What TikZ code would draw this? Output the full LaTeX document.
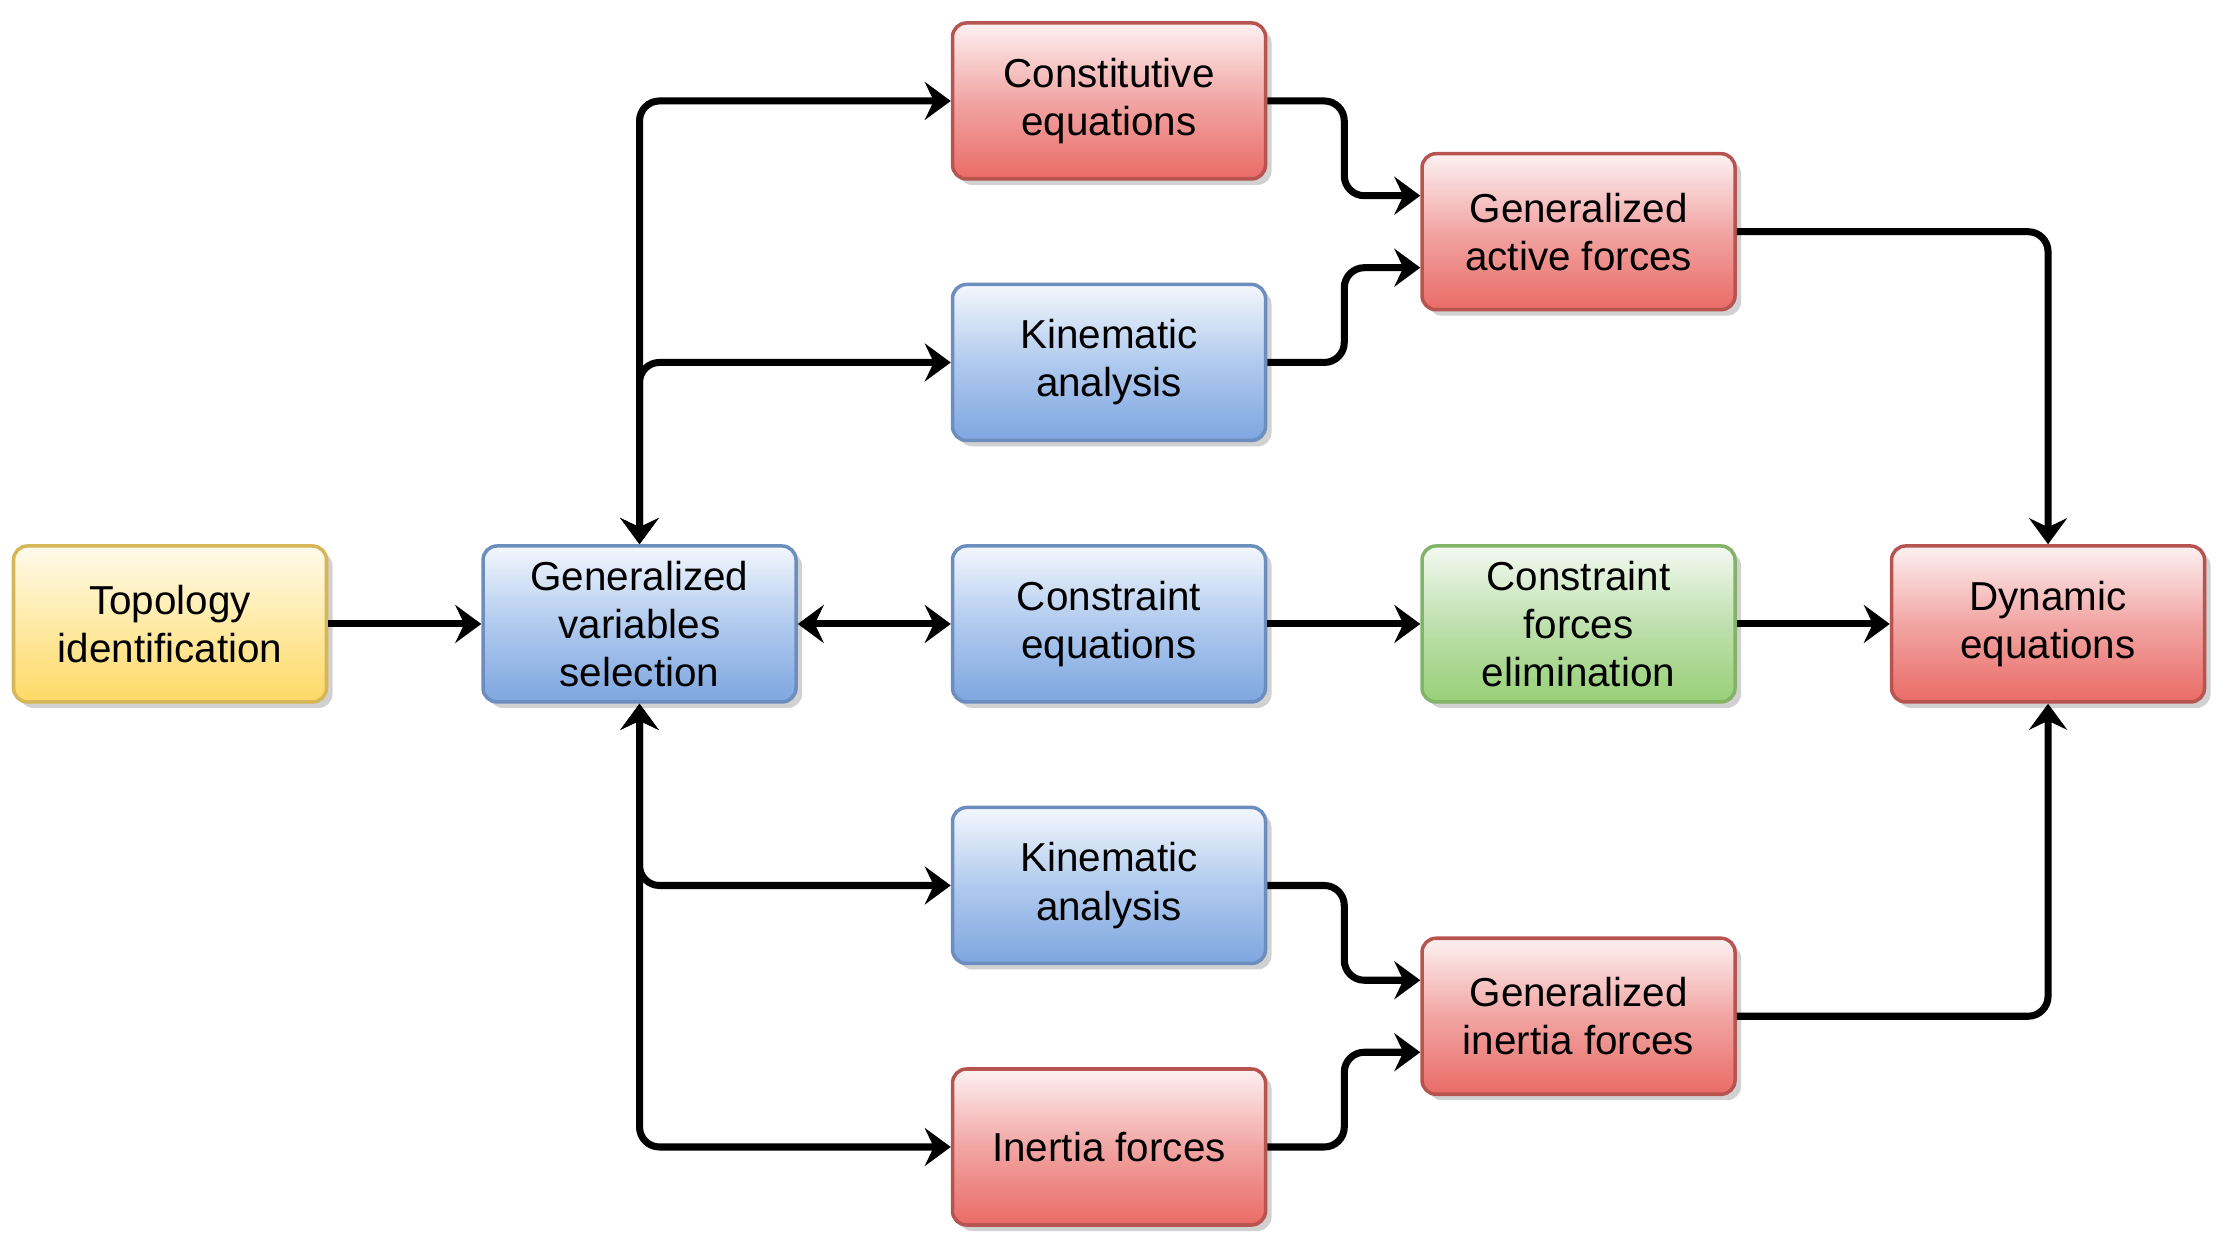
\documentclass[tikz,border=0pt]{standalone}
\usepackage{fontspec}
\setmainfont{Liberation Sans}
\usepackage{xcolor}
\usetikzlibrary{arrows.meta, positioning, calc, shadows}

\definecolor{ytop}{HTML}{FFFBEC}
\definecolor{ymid}{HTML}{FFEAA6}
\definecolor{ybot}{HTML}{FFD966}
\definecolor{ydraw}{HTML}{D6B656}
\definecolor{btop}{HTML}{F3F7FD}
\definecolor{bmid}{HTML}{B0CAEE}
\definecolor{bbot}{HTML}{7EA6E0}
\definecolor{bdraw}{HTML}{6C8EBF}
\definecolor{rtop}{HTML}{FDF1F1}
\definecolor{rmid}{HTML}{F1A5A3}
\definecolor{rbot}{HTML}{EA6B66}
\definecolor{rdraw}{HTML}{B85450}
\definecolor{gtop}{HTML}{F3F9F2}
\definecolor{gmid}{HTML}{BFE0AE}
\definecolor{gbot}{HTML}{97D077}
\definecolor{gdraw}{HTML}{82B366}

\begin{document}
\begin{tikzpicture}[font=\fontsize{11.5}{13.7}\selectfont, >={Stealth[length=2.6mm,width=3.8mm,inset=0.9mm]}]
\tikzstyle{stepbox} = [rectangle, rounded corners=0.14cm, draw, line width=1pt, minimum width=3.13cm, minimum height=1.56cm, align=center, drop shadow={shadow xshift=0.06cm, shadow yshift=-0.06cm, fill=black!18, opacity=1}]
\tikzstyle{yellowbox} = [stepbox, draw=ydraw, top color=ytop, bottom color=ybot, middle color=ymid]
\tikzstyle{bluebox} = [stepbox, draw=bdraw, top color=btop, bottom color=bbot, middle color=bmid]
\tikzstyle{redbox} = [stepbox, draw=rdraw, top color=rtop, bottom color=rbot, middle color=rmid]
\tikzstyle{greenbox} = [stepbox, draw=gdraw, top color=gtop, bottom color=gbot, middle color=gmid]
\tikzstyle{link} = [line width=2pt, rounded corners=0.2cm]

\useasboundingbox (0,0) rectangle (22.3,12.54);

% middle row
\node (topo) [yellowbox] at (1.70,6.30) {Topology\\identification};
\node (genvar) [bluebox, right=1.53cm of topo] {Generalized\\variables\\selection};
\node (conseq) [bluebox, right=1.53cm of genvar] {Constraint\\equations};
\node (cfe) [greenbox, right=1.53cm of conseq] {Constraint\\forces\\elimination};
\node (dyn) [redbox, right=1.53cm of cfe] {Dynamic\\equations};

% upper branch
\node (kin1) [bluebox, above=1.02cm of conseq] {Kinematic\\analysis};
\node (const) [redbox, above=1.02cm of kin1] {Constitutive\\equations};
\coordinate (upmid) at ($(const)!0.5!(kin1)$);
\node (gaf) [redbox] at (cfe |- upmid) {Generalized\\active forces};

% lower branch
\node (kin2) [bluebox, below=1.02cm of conseq] {Kinematic\\analysis};
\node (inert) [redbox, below=1.02cm of kin2] {Inertia forces};
\coordinate (lowmid) at ($(kin2)!0.5!(inert)$);
\node (gif) [redbox] at (cfe |- lowmid) {Generalized\\inertia forces};

\draw[link, ->] (topo) -- (genvar);
\draw[link, <->] (genvar) -- (conseq);
\draw[link, ->] (conseq) -- (cfe);
\draw[link, ->] (cfe) -- (dyn);

\draw[link, <->] (genvar.north) |- (const);
\draw[link, <->] (genvar.north) |- (kin1);
\draw[link, <->] (genvar.south) |- (kin2);
\draw[link, <->] (genvar.south) |- (inert);

\draw[link, ->] (const.east) -- ++(0.77,0) |- ([yshift=0.36cm]gaf.west);
\draw[link, ->] (kin1.east) -- ++(0.77,0) |- ([yshift=-0.36cm]gaf.west);
\draw[link, ->] (kin2.east) -- ++(0.77,0) |- ([yshift=0.36cm]gif.west);
\draw[link, ->] (inert.east) -- ++(0.77,0) |- ([yshift=-0.36cm]gif.west);

\draw[link, ->] (gaf) -| (dyn);
\draw[link, ->] (gif) -| (dyn);

\end{tikzpicture}
\end{document}
